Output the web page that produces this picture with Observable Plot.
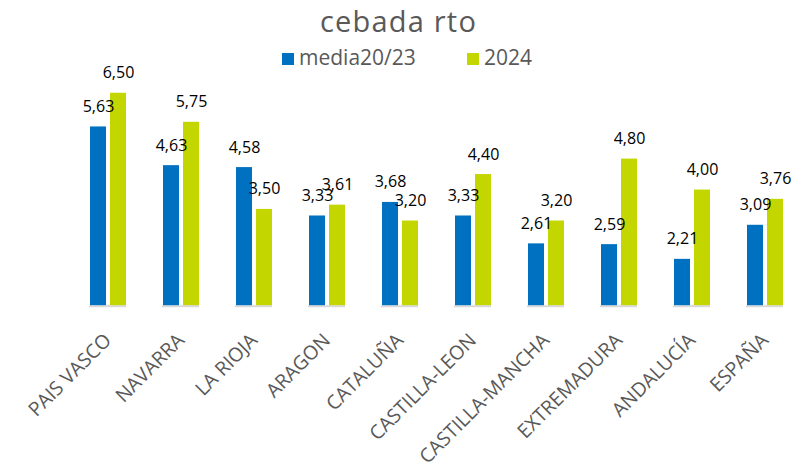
<!DOCTYPE html>
<html>
<head>
<meta charset="utf-8">
<script src="https://cdn.jsdelivr.net/npm/d3@7"></script>
<script src="https://cdn.jsdelivr.net/npm/@observablehq/plot@0.6"></script>
<style>
  html, body { margin: 0; padding: 0; background: white; }
  body { width: 809px; height: 473px; overflow: hidden; font-family: "Open Sans", sans-serif; }
  #title { height: 42px; line-height: 42px; font-size: 29px; letter-spacing: 1.2px; color: #595959; text-align: center; padding-right: 12px; white-space: nowrap; }
  #legend { height: 30px; line-height: 30px; font-size: 21px; color: #595959; white-space: nowrap; position: relative; }
  .item { position: absolute; top: 0; }
  .sw { display: inline-block; width: 12px; height: 12px; margin-right: 5px; }
  #chart svg { overflow: visible; }
</style>
</head>
<body>
<div id="title">cebada rto</div>
<div id="legend"></div>
<div id="chart"></div>
<script>
const regions = ["PAIS VASCO","NAVARRA","LA RIOJA","ARAGON","CATALUÑA","CASTILLA-LEON","CASTILLA-MANCHA","EXTREMADURA","ANDALUCÍA","ESPAÑA"];
const seriesNames = ["media20/23", "2024"];
const media2023 = [5.63, 4.63, 4.58, 3.33, 3.68, 3.33, 2.61, 2.59, 2.21, 3.09];
const values2024 = [6.50, 5.75, 3.50, 3.61, 3.20, 4.40, 3.20, 4.80, 4.00, 3.76];
const colors = ["#0070C0", "#C4D600"];
const yMin = 1, yMax = 7;

const data = [];
regions.forEach((r, i) => {
  data.push({region: r, series: seriesNames[0], value: media2023[i]});
  data.push({region: r, series: seriesNames[1], value: values2024[i]});
});

// legend
const legend = document.getElementById("legend");
const legendLeft = [282, 467];
seriesNames.forEach((s, i) => {
  const it = document.createElement("span");
  it.className = "item";
  it.style.left = legendLeft[i] + "px";
  it.innerHTML = `<span class="sw" style="background:${colors[i]}"></span>${s}`;
  legend.appendChild(it);
});

const fmt = v => v.toFixed(2).replace(".", ",");

const chart = Plot.plot({
  width: 809,
  height: 401,
  marginTop: 1.4,
  marginBottom: 167.3,
  marginLeft: 68,
  marginRight: 6,
  style: {fontFamily: "Open Sans", overflow: "visible", background: "white"},
  fx: {domain: regions, paddingInner: 0.5, paddingOuter: 0.25, label: null, axis: null},
  x: {domain: seriesNames, paddingInner: 0.2, paddingOuter: 0, axis: null},
  y: {domain: [yMin, yMax], axis: null},
  color: {domain: seriesNames, range: colors},
  marks: [
    Plot.barY(data, {fx: "region", x: "series", y1: yMin, y2: "value", fill: "series"}),
    Plot.text(data, {fx: "region", x: "series", y: "value", text: d => fmt(d.value), lineAnchor: "bottom", dy: -15, fontSize: 16, fill: "black"}),
    Plot.ruleY([yMin], {stroke: "#d9d9d9", strokeWidth: 2}),
    Plot.axisFx({anchor: "bottom", tickRotate: -45, tickSize: 0, tickPadding: 31, fontSize: 19.5, color: "#595959", label: null})
  ]
});
document.getElementById("chart").appendChild(chart);
</script>
</body>
</html>
